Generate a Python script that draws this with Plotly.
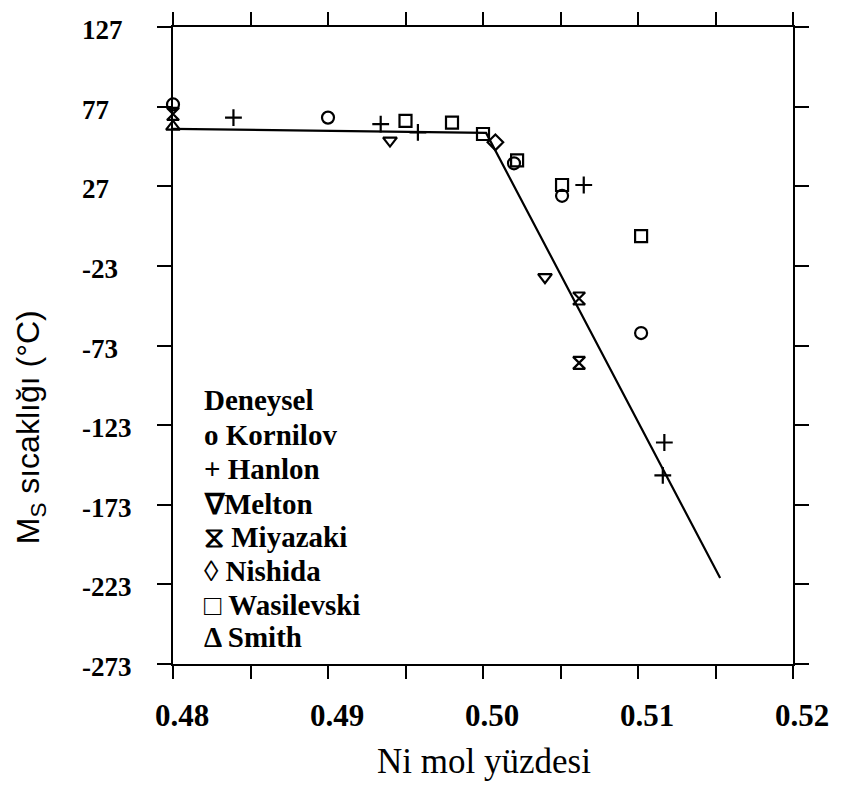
import plotly.graph_objects as go

# ---------------- data ----------------
kornilov_x = [0.4800, 0.4900, 0.5020, 0.5051, 0.5102]
kornilov_y = [78.4, 70.1, 41.4, 21.0, -65.2]

hanlon_x = [0.4839, 0.4934, 0.4958, 0.5065, 0.5117, 0.5116]
hanlon_y = [70.1, 66.0, 60.8, 27.8, -133.9, -154.6]

melton_x = [0.4940, 0.5040]
melton_y = [55.7, -30.1]

miyazaki_x = [0.4800, 0.5062, 0.5062]
miyazaki_y = [72.4, -43.5, -83.9]

nishida_x = [0.5008]
nishida_y = [54.6]

wasilevski_x = [0.4950, 0.4980, 0.5000, 0.5022, 0.5051, 0.5102]
wasilevski_y = [68.1, 67.0, 59.8, 43.3, 27.8, -4.3]

smith_x = [0.4800]
smith_y = [64.4]

fit_x = [0.4800, 0.5002, 0.5153]
fit_y = [63.0, 60.5, -219.0]

x_tickvals = [0.48, 0.49, 0.50, 0.51, 0.52]
x_ticktext = ["0.48", "0.49", "0.50", "0.51", "0.52"]
x_minor_tickvals = [0.485, 0.495, 0.505, 0.515]
y_tickvals = [127, 77, 27, -23, -73, -123, -173, -223, -273]

legend_title = "Deneysel"
legend_rows = ["o Kornilov", "+ Hanlon", "\u2207Melton", "\u29d6 Miyazaki",
               "\u25ca Nishida", "\u25a1 Wasilevski", "\u0394 Smith"]

# ---------------- figure ----------------
W, H = 841, 785
L, R, T, B = 173, 38, 19, 121
pw, ph = W - L - R, H - T - B

def px_x(px):
    return (px - L) / pw

def px_y(py):
    return (H - B - py) / ph

fig = go.Figure()

fig.add_trace(go.Scatter(x=fit_x, y=fit_y, mode="lines",
                         line=dict(color="black", width=2.2), showlegend=False,
                         cliponaxis=False))

mk = dict(color="black", size=12, line=dict(color="black", width=2.2))
series = [
    (kornilov_x, kornilov_y, "circle-open"),
    (hanlon_x, hanlon_y, "cross-thin-open"),
    (melton_x, melton_y, "triangle-down-open"),
    (miyazaki_x, miyazaki_y, "hourglass-open"),
    (nishida_x, nishida_y, "diamond-open"),
    (wasilevski_x, wasilevski_y, "square-open"),
    (smith_x, smith_y, "triangle-up-open"),
]
for xs, ys, sym in series:
    fig.add_trace(go.Scatter(x=xs, y=ys, mode="markers",
                             marker=dict(symbol=sym, **mk),
                             showlegend=False, cliponaxis=False))

serif = "Liberation Serif, Times New Roman, serif"

annotations = []
# y tick labels (left-aligned, as in the reference)
for v in y_tickvals:
    annotations.append(dict(x=px_x(78), xref="paper", y=v, yref="y",
                            text=str(v), showarrow=False, xanchor="left",
                            yanchor="middle", yshift=-3,
                            font=dict(family=serif, size=27, color="black",
                                      weight="bold")))
# y title
annotations.append(dict(x=px_x(29), xref="paper", y=px_y(424), yref="paper",
                        text="M<sub>S</sub> sıcaklığı (°C)",
                        textangle=-90, showarrow=False, xanchor="center",
                        yanchor="middle",
                        font=dict(family="Liberation Sans, Arial, sans-serif",
                                  size=32, color="black")))
# x title
annotations.append(dict(x=px_x(489), xref="paper", y=px_y(763), yref="paper",
                        text="Ni mol yüzdesi", showarrow=False,
                        xanchor="center", yanchor="middle",
                        font=dict(family=serif, size=35, color="black")))
# legend block (text, as in the reference)
row_centers = [397, 432, 466.5, 502, 535.5, 570, 604, 637]
for txt, cy in zip([legend_title] + legend_rows, row_centers):
    annotations.append(dict(x=px_x(202), xref="paper", y=px_y(cy), yref="paper",
                            text="<b>" + txt + "</b>", showarrow=False,
                            xanchor="left", yanchor="middle",
                            font=dict(family=serif, size=29, color="black")))

fig.update_layout(
    width=W, height=H,
    margin=dict(l=L, r=R, t=T, b=B, pad=0),
    paper_bgcolor="white", plot_bgcolor="white",
    showlegend=False,
    annotations=annotations,
    xaxis=dict(range=[0.48, 0.52], tickmode="array", tickvals=x_tickvals,
               ticktext=x_ticktext, ticks="outside", ticklen=13, tickwidth=2,
               tickcolor="black", showline=True, linewidth=2, linecolor="black",
               mirror="ticks", showgrid=False, zeroline=False,
               minor=dict(tickmode="array", tickvals=x_minor_tickvals,
                          ticks="outside", ticklen=13, tickwidth=2,
                          tickcolor="black", showgrid=False),
               ticklabelstandoff=10, ticklabelshift=9,
               tickfont=dict(family=serif, size=31, color="black", weight="bold")),
    yaxis=dict(range=[-273, 127], tickmode="array", tickvals=y_tickvals,
               showticklabels=False, ticks="outside", ticklen=14, tickwidth=2,
               tickcolor="black", showline=True, linewidth=2, linecolor="black",
               mirror="ticks", showgrid=False, zeroline=False),
)

fig.write_html("out.html")
